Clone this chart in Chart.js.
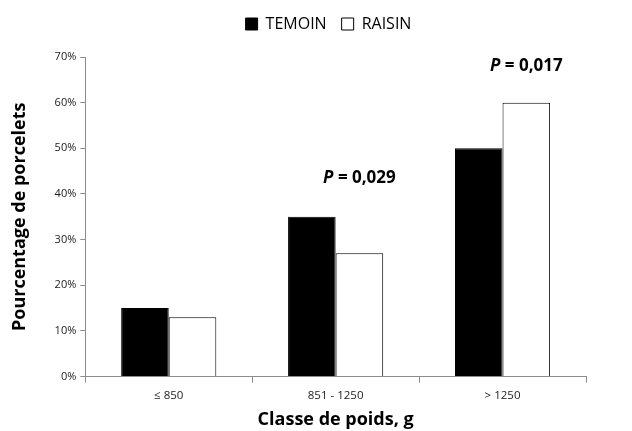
<!DOCTYPE html>
<html>
<head>
<meta charset="utf-8">
<script src="https://cdn.jsdelivr.net/npm/chart.js@4.4.0/dist/chart.umd.min.js"></script>
<style>
  html, body { margin: 0; padding: 0; background: #fff; }
  #wrap { width: 632px; height: 431px; position: relative; }
</style>
</head>
<body>
<div id="wrap"><canvas id="chart"></canvas></div>
<script>
const categories = ['≤ 850', '851 - 1250', '> 1250'];
const temoinValues = [15, 35, 50];
const raisinValues = [13, 27, 60];
const pLabels = [null, '0,029', '0,017'];
const pLabelLevels = [null, 43.4, 68];
const yTicks = [0, 10, 20, 30, 40, 50, 60, 70];

const FONT = "'Open Sans', 'Liberation Sans', sans-serif";
const AXIS_GREY = '#8c8c8c';

// draws the "P = ..." notes above the RAISIN bars
const pValuePlugin = {
  id: 'pValues',
  afterDatasetsDraw(chart) {
    const ctx = chart.ctx;
    const meta = chart.getDatasetMeta(1);
    const yScale = chart.scales.y;
    ctx.save();
    ctx.fillStyle = '#000';
    ctx.textBaseline = 'middle';
    pLabels.forEach((label, i) => {
      if (!label) return;
      const cx = meta.data[i].x;
      const cy = yScale.getPixelForValue(pLabelLevels[i]);
      const italic = 'italic bold 17px ' + FONT;
      const bold = 'bold 17px ' + FONT;
      ctx.font = italic;
      const wP = ctx.measureText('P').width;
      ctx.font = bold;
      const rest = ' = ' + label;
      const wRest = ctx.measureText(rest).width;
      const left = cx - (wP + wRest) / 2;
      ctx.textAlign = 'left';
      ctx.font = italic;
      ctx.fillText('P', left, cy);
      ctx.font = bold;
      ctx.fillText(rest, left + wP, cy);
    });
    ctx.restore();
  }
};

// extra room between the legend and the plot, legend sits a bit right of centre
const legendSpacer = {
  id: 'legendSpacer',
  beforeInit(chart) {
    const fit = chart.legend.fit;
    chart.legend.fit = function () {
      fit.call(this);
      this.height += 15;
    };
  },
  afterLayout(chart) {
    chart.legend.left += 31;
    chart.legend.right += 31;
  }
};

new Chart(document.getElementById('chart'), {
  type: 'bar',
  data: {
    labels: categories,
    datasets: [
      {
        label: 'TEMOIN',
        data: temoinValues,
        backgroundColor: '#000',
        borderColor: '#000',
        borderWidth: 1
      },
      {
        label: 'RAISIN',
        data: raisinValues,
        backgroundColor: '#fff',
        borderColor: '#000',
        borderWidth: 1
      }
    ]
  },
  options: {
    responsive: true,
    maintainAspectRatio: false,
    animation: false,
    datasets: {
      bar: { categoryPercentage: 0.57, barPercentage: 1 }
    },
    layout: { padding: { top: 1, right: 46, bottom: 0, left: 9 } },
    plugins: {
      legend: {
        position: 'top',
        labels: {
          font: { family: FONT, size: 16 },
          color: '#000',
          boxWidth: 12,
          boxHeight: 12,
          padding: 15
        }
      },
      tooltip: { enabled: false }
    },
    scales: {
      x: {
        grid: {
          display: true,
          drawOnChartArea: false,
          color: AXIS_GREY,
          tickLength: 6,
          offset: true
        },
        border: { color: AXIS_GREY },
        ticks: { font: { family: FONT, size: 11.5 }, color: '#222', padding: 6 },
        title: {
          display: true,
          text: 'Classe de poids, g',
          font: { family: FONT, size: 18, weight: 'bold' },
          color: '#000',
          padding: { top: 1, bottom: 0 }
        }
      },
      y: {
        min: 0,
        max: 70,
        afterBuildTicks(axis) {
          axis.ticks = yTicks.map(v => ({ value: v }));
        },
        grid: {
          display: true,
          drawOnChartArea: false,
          color: AXIS_GREY,
          tickLength: 5
        },
        border: { color: AXIS_GREY },
        ticks: {
          font: { family: FONT, size: 11 },
          color: '#222',
          padding: 4,
          callback: v => v + '%'
        },
        title: {
          display: true,
          text: 'Pourcentage de porcelets',
          font: { family: FONT, size: 18, weight: 'bold' },
          color: '#000',
          padding: { top: 0, bottom: 20 }
        }
      }
    }
  },
  plugins: [pValuePlugin, legendSpacer]
});
</script>
</body>
</html>
